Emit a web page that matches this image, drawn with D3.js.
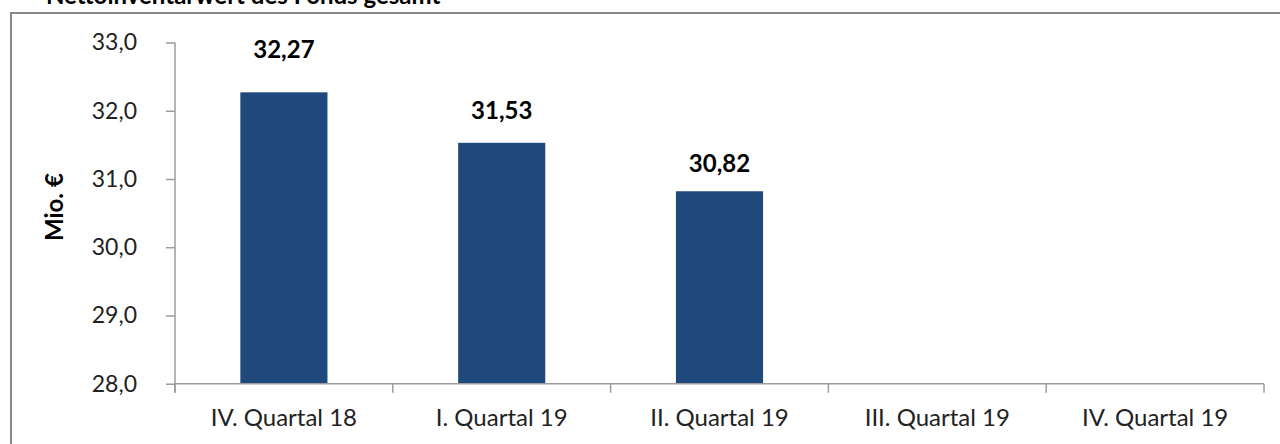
<!DOCTYPE html>
<html>
<head>
<meta charset="utf-8">
<script src="https://cdn.jsdelivr.net/npm/d3@7"></script>
<style>
  body { margin: 0; background: #fff; overflow: hidden; }
  text { font-family: Lato, "Open Sans", sans-serif; }
</style>
</head>
<body>
<div id="chart"></div>
<script>
var svgWidth = 1280;
var svgHeight = 444;

// data
var titleText = "Nettoinventarwert des Fonds gesamt";
var categories = ["IV. Quartal 18", "I. Quartal 19", "II. Quartal 19", "III. Quartal 19", "IV. Quartal 19"];
var values = [32.27, 31.53, 30.82, null, null];
var yTicks = [28, 29, 30, 31, 32, 33];
var yLabel = "Mio. €";

var margin = { top: 42.5, right: 16, bottom: 60.3, left: 175 };
var width = svgWidth - margin.left - margin.right;
var height = svgHeight - margin.top - margin.bottom;

var fmt = d3.format(".1f");
var fmt2 = d3.format(".2f");
var comma = s => s.replace(".", ",");

var svg = d3.select("#chart")
    .append("svg")
    .attr("width", svgWidth)
    .attr("height", svgHeight);

// chart frame (only top and left edge are visible in the crop)
svg.append("path")
    .attr("d", "M11,460 L11,13 L1290,13")
    .attr("fill", "none")
    .attr("stroke", "#878787")
    .attr("stroke-width", 2);

// title, mostly cut off at the top
svg.append("text")
    .attr("x", 46)
    .attr("y", 4)
    .attr("font-size", "24px")
    .attr("font-weight", "bold")
    .attr("fill", "#000")
    .text(titleText);

var chartGroup = svg.append("g")
    .attr("transform", `translate(${margin.left}, ${margin.top})`);

var x = d3.scaleBand()
    .domain(categories)
    .range([0, width])
    .paddingInner(0.6)
    .paddingOuter(0.3);

var y = d3.scaleLinear()
    .domain([28, 33])
    .range([height, 0]);

// bars
chartGroup.selectAll("rect.bar")
    .data(categories.map((c, i) => ({ cat: c, val: values[i] })).filter(d => d.val != null))
    .enter()
    .append("rect")
    .attr("class", "bar")
    .attr("x", d => x(d.cat))
    .attr("y", d => y(d.val))
    .attr("width", x.bandwidth())
    .attr("height", d => height - y(d.val))
    .attr("fill", "#1f497d");

// value labels
var labelLift = [34, 24, 19];
chartGroup.selectAll("text.val")
    .data(categories.map((c, i) => ({ cat: c, val: values[i], i: i })).filter(d => d.val != null))
    .enter()
    .append("text")
    .attr("class", "val")
    .attr("x", d => x(d.cat) + x.bandwidth() / 2)
    .attr("y", d => y(d.val) - labelLift[d.i])
    .attr("text-anchor", "middle")
    .attr("font-size", "24px")
    .attr("font-weight", "bold")
    .attr("fill", "#000")
    .text(d => comma(fmt2(d.val)));

// y axis
var leftAxis = d3.axisLeft(y)
    .tickValues(yTicks)
    .tickSize(9)
    .tickPadding(29)
    .tickFormat(d => comma(fmt(d)));

var yAxis = chartGroup.append("g").call(leftAxis);
yAxis.select(".domain").attr("stroke", "#9c9c9c").attr("stroke-width", 1.5)
    .attr("d", `M0,0 V${height + 9}`);
yAxis.selectAll(".tick line").attr("stroke", "#9c9c9c").attr("stroke-width", 1.5);
yAxis.selectAll(".tick text")
    .attr("font-size", "23px")
    .attr("fill", "#222")
    .style("font-family", "Lato, 'Open Sans', sans-serif");

// x axis with ticks on category boundaries
var xAxisG = chartGroup.append("g")
    .attr("transform", `translate(0, ${height})`);
xAxisG.append("line")
    .attr("x1", 0).attr("x2", width)
    .attr("stroke", "#9c9c9c").attr("stroke-width", 1.5);
var bounds = d3.range(categories.length + 1).map(i => i * x.step());
xAxisG.selectAll("line.tk")
    .data(bounds)
    .enter()
    .append("line")
    .attr("class", "tk")
    .attr("x1", d => d).attr("x2", d => d)
    .attr("y1", 0).attr("y2", 9)
    .attr("stroke", "#9c9c9c").attr("stroke-width", 1.5);
xAxisG.selectAll("text.cat")
    .data(categories)
    .enter()
    .append("text")
    .attr("class", "cat")
    .attr("x", d => x(d) + x.bandwidth() / 2)
    .attr("y", 42)
    .attr("text-anchor", "middle")
    .attr("font-size", "24px")
    .attr("fill", "#222")
    .text(d => d);

// y axis title
svg.append("text")
    .attr("transform", `translate(63, ${margin.top + height / 2 - 6}) rotate(-90)`)
    .attr("text-anchor", "middle")
    .attr("font-size", "24px")
    .attr("font-weight", "bold")
    .attr("fill", "#000")
    .text(yLabel);
</script>
</body>
</html>
